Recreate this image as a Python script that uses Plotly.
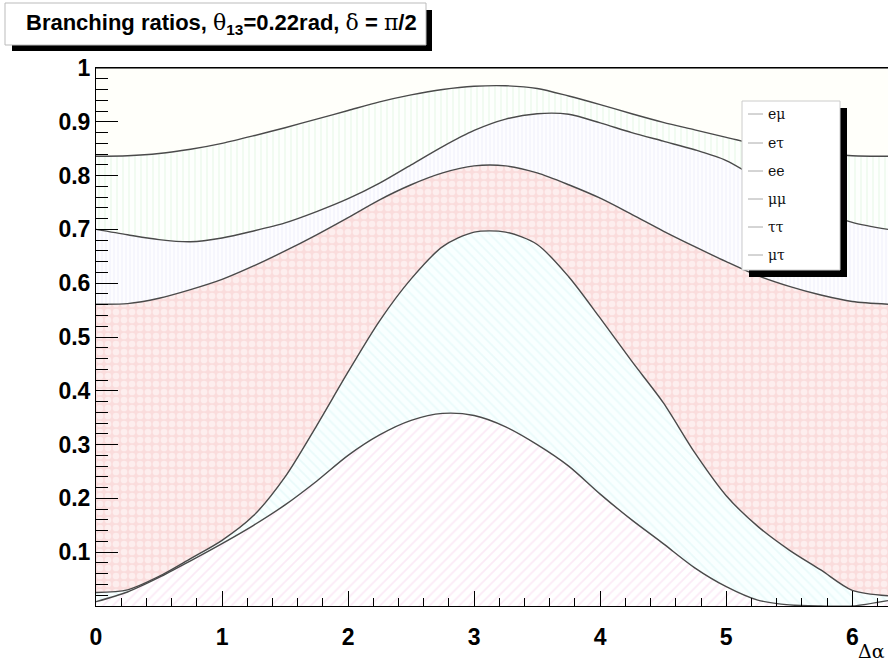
import plotly.graph_objects as go

# ---- data: cumulative (stacked) branching-ratio boundaries ----
x_vals = [0.0, 0.25, 0.5, 0.75, 1.0, 1.25, 1.5, 1.75, 2.0, 2.25, 2.5, 2.75, 3.0,
          3.25, 3.5, 3.75, 4.0, 4.25, 4.5, 4.75, 5.0, 5.25, 5.5, 5.75, 6.0, 6.2832]

top_emu = [0.008, 0.026, 0.053, 0.084, 0.116, 0.150, 0.188, 0.232, 0.280, 0.318, 0.345, 0.358, 0.354,
           0.333, 0.300, 0.260, 0.208, 0.160, 0.116, 0.071, 0.036, 0.011, 0.002, 0.0, 0.0, 0.010]
top_etau = [0.025, 0.030, 0.055, 0.088, 0.122, 0.168, 0.240, 0.335, 0.435, 0.530, 0.608, 0.668, 0.695,
            0.695, 0.672, 0.612, 0.535, 0.455, 0.378, 0.285, 0.205, 0.148, 0.104, 0.067, 0.029, 0.019]
top_ee = [0.561, 0.562, 0.572, 0.588, 0.607, 0.632, 0.660, 0.690, 0.722, 0.755, 0.783, 0.805, 0.818,
          0.818, 0.805, 0.783, 0.758, 0.728, 0.697, 0.668, 0.640, 0.614, 0.594, 0.578, 0.566, 0.561]
top_mumu = [0.700, 0.690, 0.681, 0.677, 0.684, 0.697, 0.712, 0.733, 0.757, 0.786, 0.820, 0.854, 0.884,
            0.905, 0.915, 0.914, 0.898, 0.880, 0.864, 0.848, 0.828, 0.795, 0.765, 0.735, 0.713, 0.700]
top_tautau = [0.836, 0.837, 0.841, 0.849, 0.860, 0.874, 0.889, 0.905, 0.921, 0.937, 0.950, 0.960, 0.966,
              0.967, 0.962, 0.948, 0.932, 0.915, 0.899, 0.885, 0.871, 0.858, 0.848, 0.841, 0.837, 0.836]
top_mutau = [1.0] * len(x_vals)

channels = ["eμ", "eτ", "ee", "μμ", "ττ", "μτ"]
x_ticks = [0, 1, 2, 3, 4, 5, 6]
y_ticks = [0.1, 0.2, 0.3, 0.4, 0.5, 0.6, 0.7, 0.8, 0.9, 1.0]
y_ticktext = ["0.1", "0.2", "0.3", "0.4", "0.5", "0.6", "0.7", "0.8", "0.9", "1"]

# ---- styles ----
tops = [top_emu, top_etau, top_ee, top_mumu, top_tautau, top_mutau]
styles = [
    dict(fillcolor="white", pattern=dict(shape="/", fgcolor="#f8d6ee", bgcolor="white", size=7, solidity=0.25)),
    dict(fillcolor="#f9ffff", pattern=dict(shape="\\", fgcolor="#daf5f5", bgcolor="#f9ffff", size=7, solidity=0.25)),
    dict(fillcolor="#fbe2e2", pattern=dict(shape=".", fgcolor="#ffffff", bgcolor="#fadcdc", size=8, solidity=0.55)),
    dict(fillcolor="white", pattern=dict(shape="|", fgcolor="#e8e8f9", bgcolor="#fdfdff", size=4, solidity=0.35)),
    dict(fillcolor="white", pattern=dict(shape="|", fgcolor="#e2f6e2", bgcolor="#fdfffd", size=6, solidity=0.3)),
    dict(fillcolor="#fffffa", pattern=None),
]

fig = go.Figure()
for i, (name, yv, st) in enumerate(zip(channels, tops, styles)):
    kw = dict(
        x=x_vals, y=yv, name=name, mode="lines",
        line=dict(color="#4a4a4a", width=1.4, shape="spline", smoothing=0.8),
        fill="tozeroy" if i == 0 else "tonexty",
        fillcolor=st["fillcolor"], showlegend=False, hoverinfo="skip",
    )
    if st["pattern"] is not None:
        kw["fillpattern"] = st["pattern"]
    fig.add_trace(go.Scatter(**kw))

W, H = 888, 661
L, R, T, B = 96, 0, 68, 55
pw, ph = W - L - R, H - T - B


def px(xp):
    return (xp - L) / pw


def py(yp):
    return (H - B - yp) / ph


shapes = []
annotations = []

# title box with shadow
shapes.append(dict(type="rect", xref="paper", yref="paper", x0=px(12), x1=px(432), y0=py(51), y1=py(10),
                   fillcolor="black", line=dict(width=0), layer="above"))
shapes.append(dict(type="rect", xref="paper", yref="paper", x0=px(5), x1=px(426), y0=py(45), y1=py(3),
                   fillcolor="white", line=dict(color="#bbbbbb", width=1), layer="above"))
serif = "font-family:'DejaVu Serif','Liberation Serif',serif;font-weight:normal"
title_txt = ("Branching ratios, <span style=\"%s\">θ</span><sub>13</sub>=0.22rad, "
             "<span style=\"%s\">δ</span> = <span style=\"%s\">π</span>/2") % (serif, serif, serif)
annotations.append(dict(xref="paper", yref="paper", x=px(221), y=py(24), text=title_txt, showarrow=False,
                        xanchor="center", yanchor="middle",
                        font=dict(family="Liberation Sans", size=22, color="black", weight="bold")))

# legend box with shadow (drawn manually to match ROOT layout)
shapes.append(dict(type="rect", xref="paper", yref="paper", x0=px(749), x1=px(847), y0=py(277), y1=py(108),
                   fillcolor="black", line=dict(width=0), layer="above"))
shapes.append(dict(type="rect", xref="paper", yref="paper", x0=px(742), x1=px(840), y0=py(270), y1=py(101),
                   fillcolor="white", line=dict(color="#cccccc", width=1), layer="above"))
row_y = [114, 143, 171, 199, 227, 255]
for name, ry in zip(channels, row_y):
    shapes.append(dict(type="line", xref="paper", yref="paper", x0=px(748), x1=px(763), y0=py(ry), y1=py(ry),
                       line=dict(color="#aaaaaa", width=1), layer="above"))
    annotations.append(dict(xref="paper", yref="paper", x=px(766), y=py(ry), text=name, showarrow=False,
                            xanchor="left", yanchor="middle",
                            font=dict(family="DejaVu Serif", size=14, color="#111111")))

# x axis title
annotations.append(dict(xref="paper", yref="paper", x=px(887), y=py(651), text="Δα", showarrow=False,
                        xanchor="right", yanchor="middle",
                        font=dict(family="DejaVu Serif", size=19, color="black")))

fig.update_layout(
    width=W, height=H, autosize=False,
    margin=dict(l=L, r=R, t=T, b=B, pad=0),
    paper_bgcolor="white", plot_bgcolor="white",
    showlegend=False,
    shapes=shapes, annotations=annotations,
)
fig.update_xaxes(
    range=[0, 6.2832], tickvals=x_ticks, ticks="inside", ticklen=15, tickcolor="black", tickwidth=1,
    minor=dict(dtick=0.2, tick0=0, ticks="inside", ticklen=8, tickcolor="black"),
    showline=True, linecolor="black", linewidth=1, mirror=True, showgrid=False, zeroline=False,
    tickfont=dict(family="Liberation Sans", size=23, color="black", weight="bold"),
    ticklabelstandoff=10,
)
fig.update_yaxes(
    range=[0, 1], tickvals=y_ticks, ticktext=y_ticktext, ticks="inside", ticklen=22, tickcolor="black",
    tickwidth=1,
    minor=dict(dtick=0.02, tick0=0, ticks="inside", ticklen=12, tickcolor="black"),
    showline=True, linecolor="black", linewidth=1, mirror=True, showgrid=False, zeroline=False,
    tickfont=dict(family="Liberation Sans", size=23, color="black", weight="bold"),
)

fig.write_html("out.html", config={"displayModeBar": False},
               post_script="document.body.style.margin='0';document.body.style.overflow='hidden';")
